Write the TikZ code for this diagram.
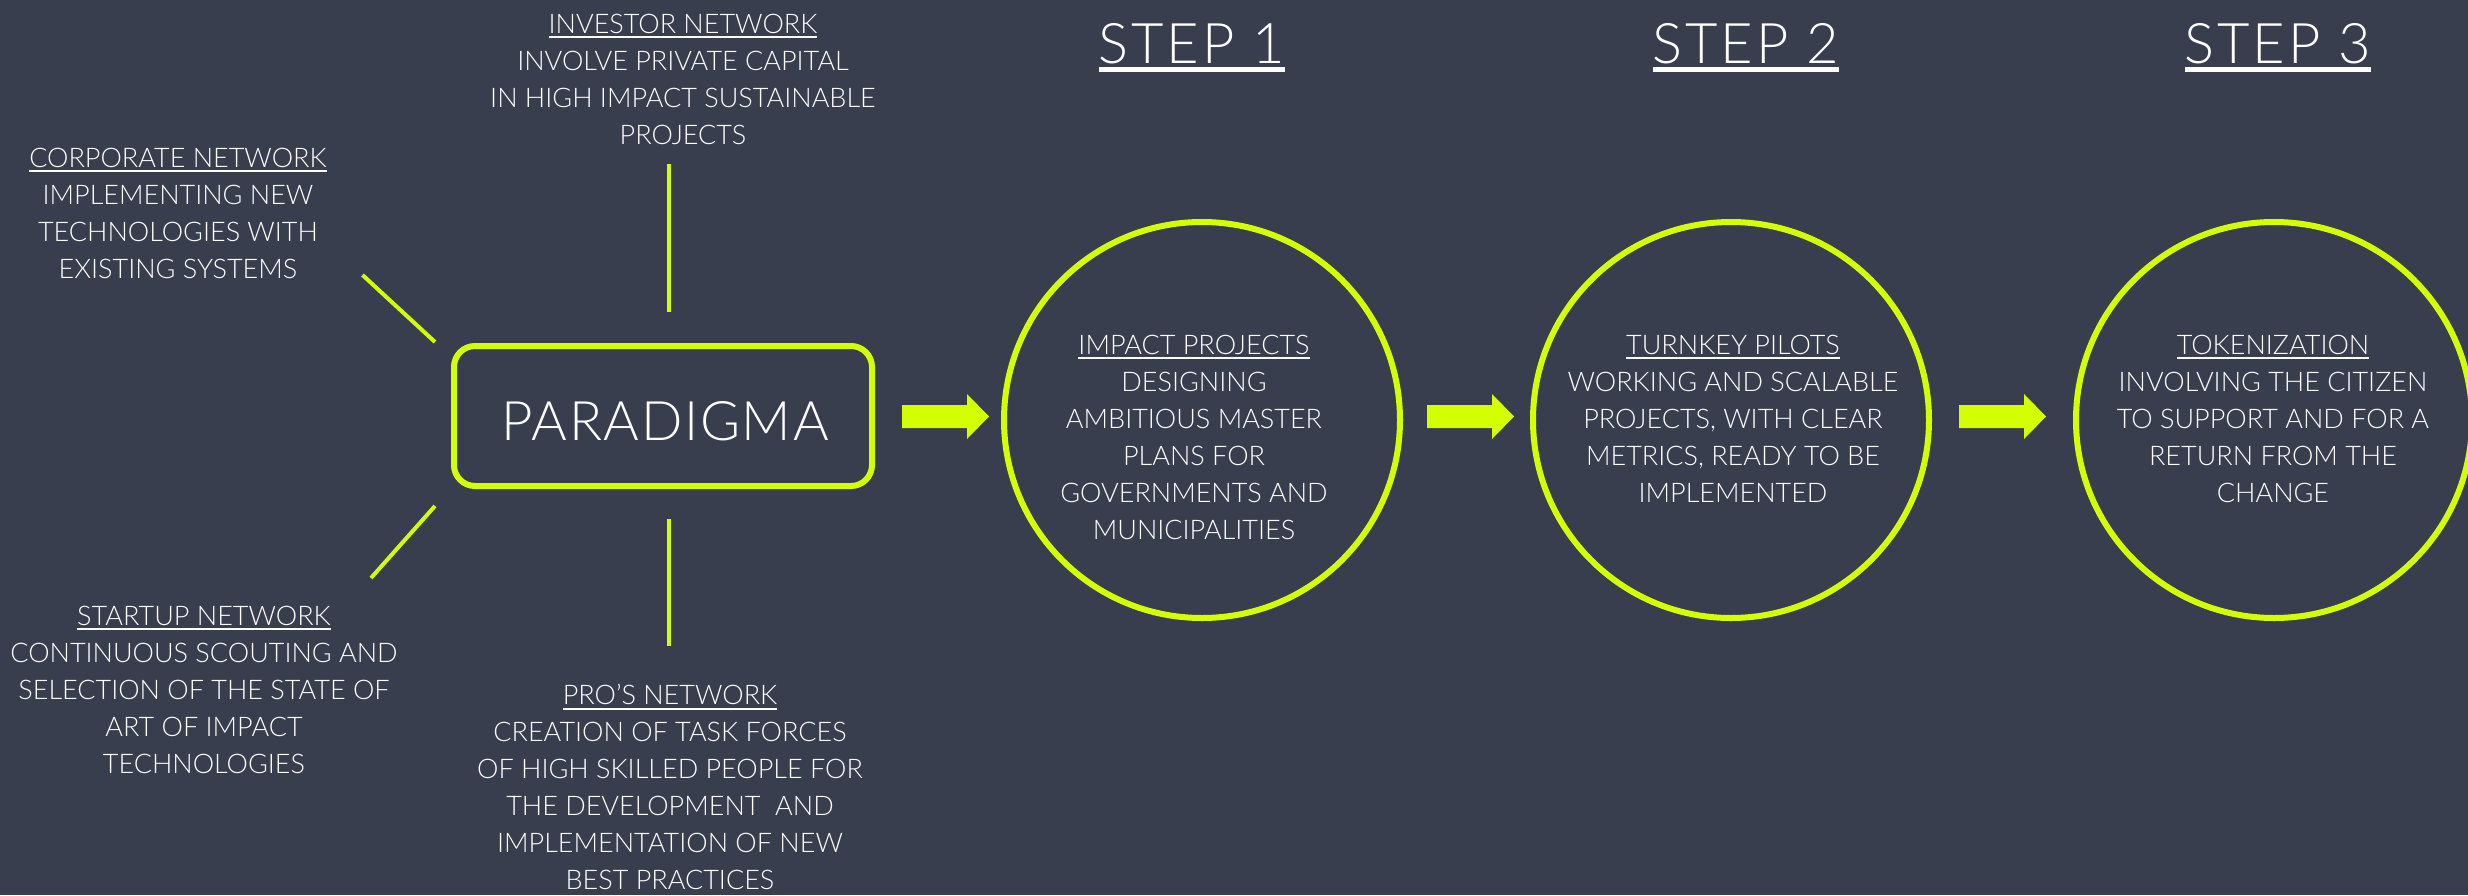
\documentclass[tikz,border=0pt]{standalone}
\usepackage{fontspec}
\setmainfont{Lato-Light.ttf}
\definecolor{bg}{RGB}{57,62,79}
\definecolor{lime}{RGB}{212,255,0}
\newsavebox\ulbox
\newcommand\ulin[1]{\sbox\ulbox{#1}\rlap{\rule[-5pt]{\wd\ulbox}{2pt}}\usebox\ulbox}
\newcommand\ulbig[1]{\sbox\ulbox{#1}\rlap{\rule[-9pt]{\wd\ulbox}{5pt}}\usebox\ulbox}
\tikzset{
  body/.style={text=white, font=\fontsize{27}{37}\selectfont, align=center, inner sep=0, anchor=north},
  head/.style={text=white, font=\fontsize{56}{60}\selectfont\addfontfeature{LetterSpace=5}, inner sep=0, anchor=north},
  link/.style={draw=lime, line width=4},
  ring/.style={circle, draw=lime, line width=6, minimum size=396, inner sep=0},
  hub/.style={draw=lime, line width=6, rounded corners=21, minimum width=418, minimum height=140, inner sep=0},
  blockarrow/.style={fill=lime}
}
\begin{document}
\begin{tikzpicture}[x=1pt,y=-1pt]
\clip (0,0) rectangle (2468,895);
\fill[bg] (0,0) rectangle (2468,895);

% hub
\node[hub] (para) at (663,416) {};
\node[head, font=\fontsize{54.5}{60}\selectfont\addfontfeature{LetterSpace=3}] (paratext) at (665,401) {PARADIGMA};

% side texts
\node[body] (invest) at (683,13.5) {\ulin{INVESTOR NETWORK}\\INVOLVE PRIVATE CAPITAL\\IN HIGH IMPACT SUSTAINABLE\\PROJECTS};
\node[body] (corp) at (178,147.5) {\ulin{CORPORATE NETWORK}\\IMPLEMENTING NEW\\TECHNOLOGIES WITH\\EXISTING SYSTEMS};
\node[body] (startup) at (204,605.5) {\ulin{STARTUP NETWORK}\\CONTINUOUS SCOUTING AND\\SELECTION OF THE STATE OF\\ART OF IMPACT\\TECHNOLOGIES};
\node[body] (pros) at (670,684) {\ulin{PRO’S NETWORK}\\CREATION OF TASK FORCES\\OF HIGH SKILLED PEOPLE FOR\\THE DEVELOPMENT\ \ AND\\IMPLEMENTATION OF NEW\\BEST PRACTICES};

% connectors
\coordinate (corpA) at (362.5,275); \coordinate (corpB) at (435,342);
\coordinate (invA) at (669,164);    \coordinate (invB) at (669,312);
\coordinate (startA) at (435,506);  \coordinate (startB) at (371,578);
\coordinate (proA) at (669,519);    \coordinate (proB) at (669,646);
\draw[link] (corpA) -- (corpB);
\draw[link] (invA) -- (invB);
\draw[link] (startA) -- (startB);
\draw[link] (proA) -- (proB);

% step headings
\node[head] (s1) at (1192,23) {\ulbig{STEP 1}};
\node[head] (s2) at (1746,23) {\ulbig{STEP 2}};
\node[head] (s3) at (2278,23) {\ulbig{STEP 3}};

% circles
\node[ring] (c1) at (1202,420) {};
\node[ring] (c2) at (1731,420) {};
\node[ring] (c3) at (2274,420) {};
\node[body] (c1t) at (1194,334.5) {\ulin{IMPACT PROJECTS}\\DESIGNING\\AMBITIOUS MASTER\\PLANS FOR\\GOVERNMENTS AND\\MUNICIPALITIES};
\node[body] (c2t) at (1733,334.5) {\ulin{TURNKEY PILOTS}\\WORKING AND SCALABLE\\PROJECTS, WITH CLEAR\\METRICS, READY TO BE\\IMPLEMENTED};
\node[body] (c3t) at (2273,334.5) {\ulin{TOKENIZATION}\\INVOLVING THE CITIZEN\\TO SUPPORT AND FOR A\\RETURN FROM THE\\CHANGE};

% block arrows
\coordinate (a1) at (902,416.5);
\coordinate (a2) at (1427,416.5);
\coordinate (a3) at (1959,416.5);
\foreach \a in {a1,a2,a3}{
  \fill[blockarrow] (\a) ++(0,-11.5) -- ++(65,0) -- ++(0,-11) -- ++(22,22.5) -- ++(-22,22.5) -- ++(0,-11) -- ++(-65,0) -- cycle;
}
\end{tikzpicture}
\end{document}
